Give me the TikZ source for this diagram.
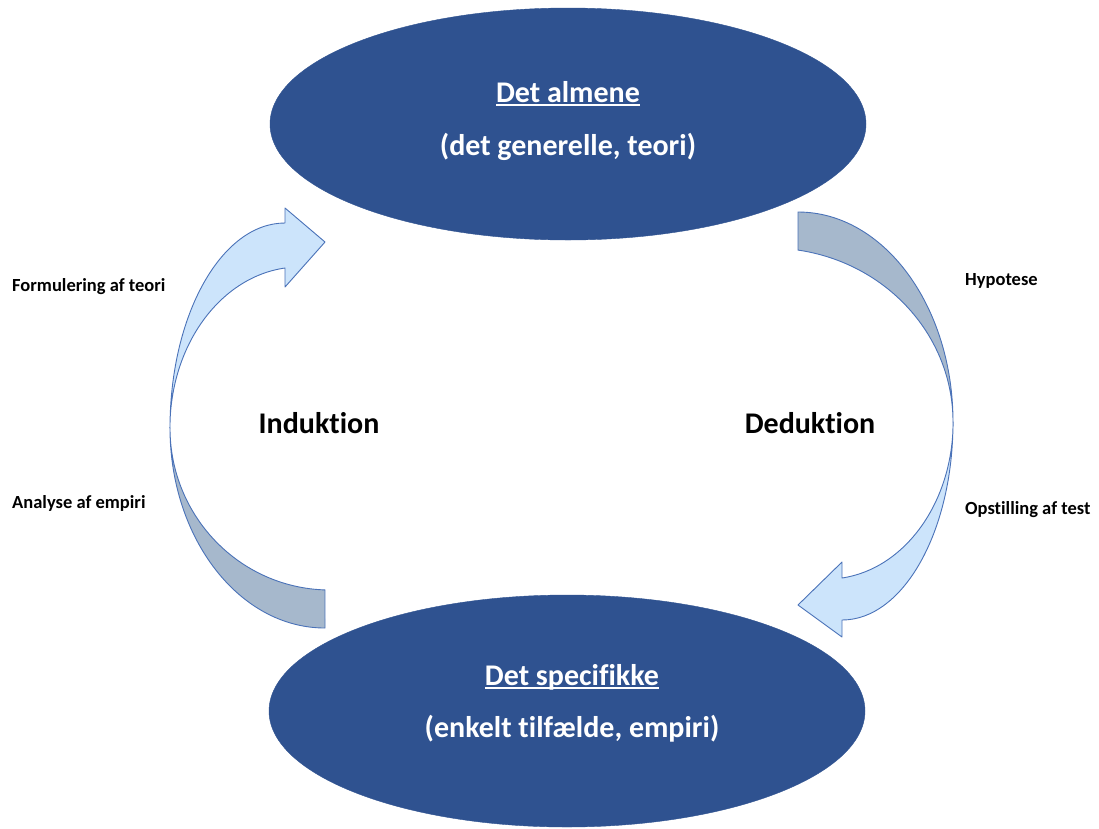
\documentclass[tikz,border=0pt]{standalone}
\usepackage{fontspec}
\setmainfont{Carlito}[Ligatures=NoCommon]
\usetikzlibrary{shapes.geometric}
\definecolor{ovalblue}{HTML}{2F5290}
\definecolor{arrowline}{HTML}{4A72B8}
\definecolor{arrowlight}{HTML}{CCE4FB}
\definecolor{arrowdark}{HTML}{A6B8CC}
% underline that runs just below the baseline, through descenders
\newcommand{\baseul}[1]{\setbox0\hbox{#1}\rlap{\rule[-0.12em]{\wd0}{0.055em}}\box0}
\begin{document}
\begin{tikzpicture}[x=1pt,y=-1pt,
  oval/.style={ellipse,fill=ovalblue,draw=ovalblue,inner sep=0pt,
    minimum width=596pt,minimum height=232pt},
  ovaltext/.style={text=white,font=\fontsize{30}{36}\selectfont\bfseries,anchor=base},
  cyclelabel/.style={font=\fontsize{30}{36}\selectfont\bfseries,anchor=base},
  steplabel/.style={font=\fontsize{18.5}{22}\selectfont\bfseries,anchor=base west,inner sep=0pt},
  front/.style={fill=arrowlight,draw=arrowline,line width=0.9pt,line join=round},
  back/.style={fill=arrowdark,draw=arrowline,line width=0.9pt,line join=round}]
\useasboundingbox (0,0) rectangle (1099,828);

% the two ovals
\node[oval] (general) at (568,124) {};
\node[oval] (specific) at (567,711) {};

\node[ovaltext] (generaltitle) at (568,102) {\baseul{Det almene}};
\node[ovaltext] (generalsub) at (568,155) {(det generelle, teori)};
\node[ovaltext] (specifictitle) at (572,685) {\baseul{Det specifikke}};
\node[ovaltext] (specificsub) at (572,737) {(enkelt tilfælde, empiri)};

% left curved arrow: induction, from the specific up to the general
\draw[back] (325,628) arc[start angle=90,end angle=180,x radius=155,y radius=200]
  arc[start angle=180,end angle=91.8,x radius=160,y radius=162] -- cycle;
\draw[front] (170,428) arc[start angle=180,end angle=270,x radius=115,y radius=205]
  -- (285,208) -- (325,242) -- (285,287) -- (285,268)
  arc[start angle=263.4,end angle=180,x radius=130,y radius=161] -- cycle;

% right curved arrow: deduction, from the general down to the specific
\draw[back] (798,212) arc[start angle=270,end angle=360,x radius=155,y radius=210]
  arc[start angle=0,end angle=-81.2,x radius=183,y radius=174] -- cycle;
\draw[front] (953,422) arc[start angle=0,end angle=90,x radius=111,y radius=198]
  -- (842,637) -- (798,605) -- (842,562) -- (842,578)
  arc[start angle=83.2,end angle=0,x radius=126,y radius=157] -- cycle;

% labels
\node[cyclelabel] (induktion) at (319,433) {Induktion};
\node[cyclelabel] (deduktion) at (810,433) {Deduktion};
\node[steplabel] (formulering) at (12,291) {Formulering af teori};
\node[steplabel] (analyse) at (12,508) {Analyse af empiri};
\node[steplabel] (hypotese) at (965,285) {Hypotese};
\node[steplabel] (opstilling) at (965,514) {Opstilling af test};
\end{tikzpicture}
\end{document}
